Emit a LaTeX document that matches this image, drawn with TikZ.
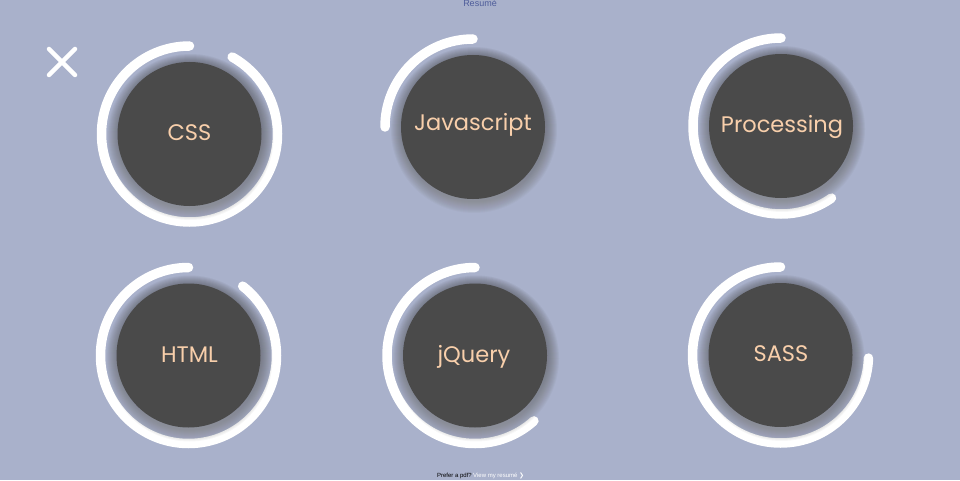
\documentclass[tikz,border=0pt]{standalone}
\usepackage{fontspec}
\setmainfont{Poppins}
\newfontfamily\smallfont{Liberation Sans}
\newfontfamily\symfont{DejaVu Sans}
\usetikzlibrary{calc}
\definecolor{bg}{HTML}{A9B1CB}
\definecolor{disc}{HTML}{4A4A4A}
\definecolor{peach}{HTML}{F8CFAB}
\definecolor{shade}{HTML}{5A6284}
\definecolor{titleblue}{HTML}{4E5C9A}
\tikzset{
  disc/.style={circle, fill=disc, minimum size=144pt, inner sep=0pt},
  ring/.style={draw=white, line width=9.5pt, line cap=round},
  skilltext/.style={anchor=base, text=peach, font=\fontsize{22.5}{22.5}\selectfont, inner sep=0pt},
  cross/.style={draw=white, line width=4.5pt, line cap=round}
}
\newcommand{\shadowdisc}[1]{%
  \foreach \k in {1,...,12}{\fill[shade, opacity=0.03] ($(#1)+(1,-3)$) circle[radius=71+\k];}%
}
\newcommand{\skillring}[3]{% center, start, end
  \draw[ring] ($(#1)+(#2:88)$) arc[start angle=#2, end angle=#3, radius=88];%
}
\begin{document}
\begin{tikzpicture}[x=1pt,y=1pt]
  \fill[bg] (0,0) rectangle (960,480);
  \useasboundingbox (0,0) rectangle (960,480);
  % centers
  \coordinate (c1) at (189.5,346);
  \coordinate (c2) at (473,353);
  \coordinate (c3) at (781,354);
  \coordinate (c4) at (188.5,124.5);
  \coordinate (c5) at (475,124.5);
  \coordinate (c6) at (780.5,125);
  % rings
  \skillring{c1}{90}{421}
  \skillring{c2}{90}{180}
  \skillring{c3}{90}{305}
  \skillring{c4}{90}{412}
  \skillring{c5}{90}{312}
  \skillring{c6}{90}{358}
  % shadows
  \shadowdisc{c1}\shadowdisc{c2}\shadowdisc{c3}
  \shadowdisc{c4}\shadowdisc{c5}\shadowdisc{c6}
  % discs
  \node[disc] (css) at (c1) {};
  \node[disc] (js) at (c2) {};
  \node[disc] (proc) at (c3) {};
  \node[disc] (html) at (c4) {};
  \node[disc] (jq) at (c5) {};
  \node[disc] (sass) at (c6) {};
  % labels
  \node[skilltext] (tcss) at (189.5,339) {CSS};
  \node[skilltext] (tjs) at (473,349.5) {Javascript};
  \node[skilltext] (tproc) at (782,347) {Processing};
  \node[skilltext] (thtml) at (189.5,118) {HTML};
  \node[skilltext] (tjq) at (474,118) {jQuery};
  \node[skilltext] (tsass) at (781,119) {SASS};
  % close icon
  \coordinate (x1) at (49,431);
  \coordinate (x2) at (75,405);
  \coordinate (x3) at (49,405);
  \coordinate (x4) at (75,431);
  \draw[cross] (x1) -- (x2);
  \draw[cross] (x3) -- (x4);
  % title and footer
  \node[text=titleblue, font=\smallfont\fontsize{9}{9}\selectfont, anchor=base] (title) at (480,473) {Resumé};
  \node[font=\smallfont\fontsize{6}{6}\selectfont, anchor=base east, inner sep=0pt] (pref) at (472,2.5) {Prefer a pdf?};
  \node[text=white, font=\smallfont\fontsize{6}{6}\selectfont, anchor=base west, inner sep=0pt] (view) at (473,2.5) {View my resumé {\symfont ❯}};
\end{tikzpicture}
\end{document}
